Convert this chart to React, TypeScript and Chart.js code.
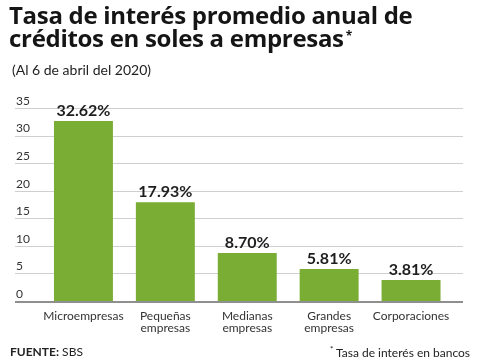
import React, { useEffect, useRef } from "react";
import { Chart, registerables } from "chart.js";

Chart.register(...registerables);

const categories: (string | string[])[] = [
  "Microempresas",
  ["Pequeñas", "empresas"],
  ["Medianas", "empresas"],
  ["Grandes", "empresas"],
  "Corporaciones",
];
const rates = [32.62, 17.93, 8.7, 5.81, 3.81];
const rateLabels = ["32.62%", "17.93%", "8.70%", "5.81%", "3.81%"];
const yTicks = [0, 5, 10, 15, 20, 25, 30, 35];

const FONT = "Lato, 'Open Sans', sans-serif";
const HEAD_FONT = "'Open Sans', Lato, sans-serif";

const gridPlugin = {
  id: "customGrid",
  beforeDatasetsDraw(chart: any) {
    const { ctx } = chart;
    const y = chart.scales.y;
    ctx.save();
    ctx.strokeStyle = "#cfcfcf";
    ctx.lineWidth = 1;
    for (const v of yTicks) {
      if (v === 0) continue;
      const py = Math.round(y.getPixelForValue(v)) + 0.5;
      ctx.beginPath();
      ctx.moveTo(15, py);
      ctx.lineTo(463, py);
      ctx.stroke();
    }
    ctx.restore();
  },
  afterDatasetsDraw(chart: any) {
    const { ctx } = chart;
    const y = chart.scales.y;
    ctx.save();
    ctx.strokeStyle = "#8f8f8f";
    ctx.lineWidth = 2;
    const py = y.getPixelForValue(0) + 1;
    ctx.beginPath();
    ctx.moveTo(15, py);
    ctx.lineTo(463, py);
    ctx.stroke();
    // value labels
    const meta = chart.getDatasetMeta(0);
    ctx.fillStyle = "#1e1e1e";
    ctx.font = `bold 16px ${FONT}`;
    ctx.textAlign = "center";
    ctx.textBaseline = "alphabetic";
    meta.data.forEach((bar: any, i: number) => {
      ctx.fillText(rateLabels[i], bar.x, bar.y - 5);
    });
    ctx.restore();
  },
};

export default function App() {
  const ref = useRef<HTMLCanvasElement | null>(null);
  useEffect(() => {
    if (!ref.current) return;
    const chart = new Chart(ref.current, {
      type: "bar",
      data: {
        labels: categories,
        datasets: [
          {
            data: rates,
            backgroundColor: "#7aad34",
            borderWidth: 0,
            categoryPercentage: 1,
            barPercentage: 0.72,
          },
        ],
      },
      options: {
        animation: false,
        responsive: false,
        maintainAspectRatio: false,
        layout: { padding: { left: 16, right: 28, top: 108, bottom: 18 } },
        plugins: {
          legend: { display: false },
          tooltip: { enabled: false },
          title: { display: false },
        },
        scales: {
          x: {
            grid: { display: false, drawTicks: false },
            border: { display: false },
            ticks: {
              color: "#333",
              font: { family: FONT, size: 12, lineHeight: 1.0 },
              padding: 9,
              maxRotation: 0,
              autoSkip: false,
            },
          },
          y: {
            min: 0,
            max: 35,
            afterFit(scale: any) {
              scale.width = 26.5;
            },
            afterBuildTicks(scale: any) {
              scale.ticks = yTicks.map((v) => ({ value: v }));
            },
            grid: { display: false, drawTicks: false },
            border: { display: false },
            ticks: {
              color: "#333",
              font: { family: FONT, size: 12 },
              crossAlign: "far",
              labelOffset: -7,
              padding: 0,
            },
          },
        },
      },
      plugins: [gridPlugin],
    });
    return () => chart.destroy();
  }, []);

  return (
    <div
      style={{
        position: "absolute",
        left: 0,
        top: 0,
        width: 480,
        height: 361,
        background: "#fff",
        fontFamily: FONT,
        overflow: "hidden",
      }}
    >
      <canvas
        ref={ref}
        width={480}
        height={361}
        style={{ position: "absolute", left: 0, top: 0, width: 480, height: 361 }}
      />
      <div
        style={{
          position: "absolute",
          left: 9,
          top: 3,
          fontFamily: HEAD_FONT,
          fontWeight: 700,
          fontSize: 24,
          lineHeight: "23px",
          letterSpacing: -0.3,
          color: "#151515",
          whiteSpace: "nowrap",
        }}
      >
        Tasa de interés promedio anual de
        <br />
        créditos en soles a empresas
        <span style={{ fontSize: 12, verticalAlign: "top", position: "relative", top: -2, marginLeft: 2 }}>*</span>
      </div>
      <div
        style={{
          position: "absolute",
          left: 12,
          top: 61,
          fontFamily: FONT,
          fontSize: 14,
          color: "#222",
          whiteSpace: "nowrap",
        }}
      >
        (Al 6 de abril del 2020)
      </div>
      <div
        style={{
          position: "absolute",
          left: 10,
          top: 344,
          fontSize: 12,
          color: "#222",
          whiteSpace: "nowrap",
        }}
      >
        <b>FUENTE:</b> SBS
      </div>
      <div
        style={{
          position: "absolute",
          right: 10,
          top: 344,
          fontSize: 12,
          color: "#222",
          whiteSpace: "nowrap",
        }}
      >
        <sup style={{ fontSize: 8 }}>*</sup> Tasa de interés en bancos
      </div>
    </div>
  );
}
